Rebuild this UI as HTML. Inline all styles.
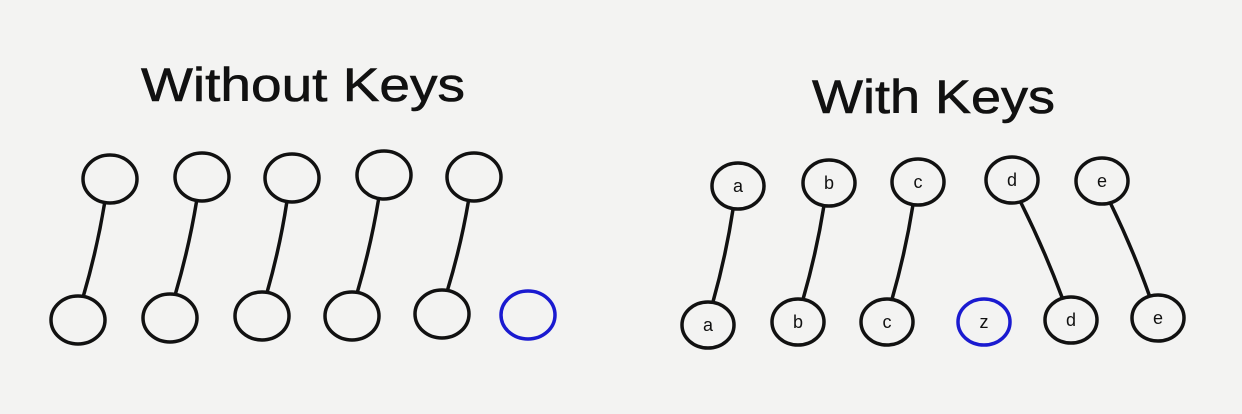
<!DOCTYPE html>
<html><head><meta charset="utf-8">
<style>
html,body{margin:0;padding:0;background:#f3f3f2;}
svg{display:block;}
text{font-family:"Liberation Sans",sans-serif;}
</style></head>
<body>
<svg id="diagram" width="1242" height="414" viewBox="0 0 1242 414" xmlns="http://www.w3.org/2000/svg">
<rect width="1242" height="414" fill="#f3f3f2"/>
<text x="141" y="101" font-size="47" textLength="324" lengthAdjust="spacingAndGlyphs" fill="#111" stroke="#111" stroke-width="0.6">Without Keys</text>
<text x="812" y="113" font-size="47" textLength="243" lengthAdjust="spacingAndGlyphs" fill="#111" stroke="#111" stroke-width="0.6">With Keys</text>
<g id="marks"></g>
</svg>
<script>
// Left (without keys) nodes
const leftTopX = [110, 202, 292, 384, 474];
const leftTopY = [179, 177, 178, 175, 177];
const leftBotX = [78, 170, 262, 352, 442, 528];
const leftBotY = [320, 318, 316, 316, 314, 315];
const leftBotColor = ["#111","#111","#111","#111","#111","#1a1ad0"];
const leftLinks = [[0,0],[1,1],[2,2],[3,3],[4,4]];
// Right (with keys) nodes
const rightTopLabels = ["a","b","c","d","e"];
const rightTopX = [738, 829, 918, 1012, 1102];
const rightTopY = [186, 183, 182, 180, 181];
const rightBotLabels = ["a","b","c","z","d","e"];
const rightBotX = [708, 798, 887, 984, 1071, 1158];
const rightBotY = [325, 322, 322, 322, 320, 318];
const rightBotColor = ["#111","#111","#111","#1a1ad0","#111","#111"];
const rightLinks = [[0,0],[1,1],[2,2],[3,4],[4,5]];

const NS = "http://www.w3.org/2000/svg";
const g = document.getElementById("marks");
function mk(tag, attrs){ const e=document.createElementNS(NS,tag); for(const k in attrs) e.setAttribute(k,attrs[k]); g.appendChild(e); return e; }

function link(x1,y1,x2,y2,rx,ry){
  const dx=x2-x1, dy=y2-y1, L=Math.hypot(dx,dy);
  const sx=x1+dx/L*rx*0.9, sy=y1+ry, ex=x2-dx/L*rx*0.9, ey=y2-ry;
  const mx=(sx+ex)/2+3, my=(sy+ey)/2;
  const p = mk("path",{d:`M${sx},${sy} Q${mx},${my} ${ex},${ey}`, fill:"none", stroke:"#111","stroke-width":3.5,"stroke-linecap":"round"});
  
  
}
function node(x,y,rx,ry,col,label){
  const c = mk("ellipse",{cx:x,cy:y,rx:rx,ry:ry,fill:"none",stroke:col,"stroke-width":3.5});
  
  
  if(label){
    const t = mk("text",{x:x,y:y+6,"font-size":18,"text-anchor":"middle",fill:"#111"});
    t.textContent = label;
    
    
  }
}
leftLinks.forEach(([a,b])=>link(leftTopX[a],leftTopY[a],leftBotX[b],leftBotY[b],27,24));
rightLinks.forEach(([a,b])=>link(rightTopX[a],rightTopY[a],rightBotX[b],rightBotY[b],26,23));
leftTopX.forEach((x,i)=>node(x,leftTopY[i],27,24,"#111",null));
leftBotX.forEach((x,i)=>node(x,leftBotY[i],27,24,leftBotColor[i],null));
rightTopX.forEach((x,i)=>node(x,rightTopY[i],26,23,"#111",rightTopLabels[i]));
rightBotX.forEach((x,i)=>node(x,rightBotY[i],26,23,rightBotColor[i],rightBotLabels[i]));
</script>
</body></html>
